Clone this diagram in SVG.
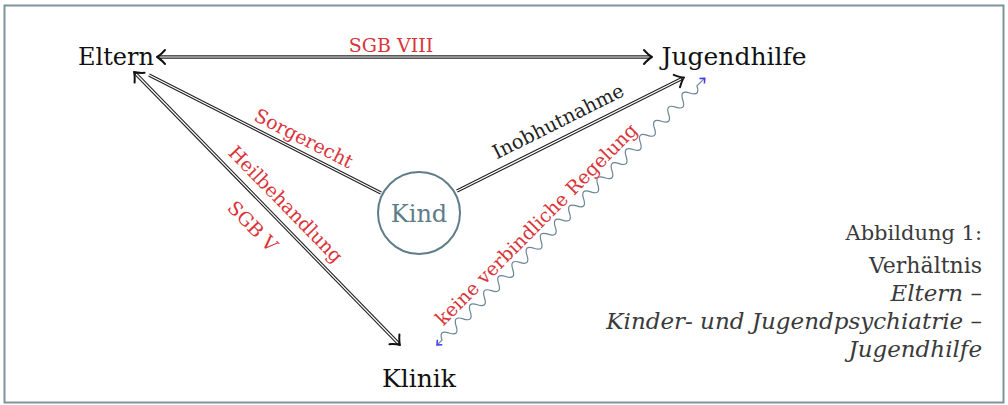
<svg xmlns="http://www.w3.org/2000/svg" width="1008" height="405" viewBox="0 0 1008 405">
<style>
.node{font-family:"DejaVu Serif","Liberation Serif",serif;font-size:24px;fill:#111;text-anchor:middle}
.lab{font-family:"DejaVu Serif","Liberation Serif",serif;font-size:19px;text-anchor:middle}
.red{fill:#d9343a}
.blk{fill:#222}
.cap{font-family:"DejaVu Serif","Liberation Serif",serif;font-size:21px;fill:#3a3a3a;text-anchor:end;font-weight:300}
.it{font-style:italic;font-size:23px}
.outer{stroke:#222;stroke-width:3.4;fill:none}
.inner{stroke:#fff;stroke-width:1.2;fill:none}
.tip{stroke:#111;stroke-width:2;fill:none;stroke-linecap:round;stroke-linejoin:round}
.btip{stroke:#3b3bff;stroke-width:1.5;fill:none}
</style>
<defs>
<path id="tip" d="M-8,-7 Q-3,-1.5 0,0 Q-3,1.5 -8,7"/>
</defs>
<rect x="4.5" y="5.5" width="999" height="397" fill="#fff" stroke="#7d9499" stroke-width="2"/>
<g id="connectors">
  <!-- Eltern <-> Jugendhilfe -->
  <line class="outer" x1="158" y1="57" x2="651" y2="57"/>
  <line class="inner" x1="158" y1="57" x2="650" y2="57"/>
  <use href="#tip" class="tip" transform="translate(157,57) rotate(180)"/>
  <use href="#tip" class="tip" transform="translate(652,57)"/>
  <!-- Eltern - Kind -->
  <line class="outer" x1="149" y1="75" x2="381" y2="193"/>
  <line class="inner" x1="149" y1="75" x2="381" y2="193"/>
  <!-- Kind -> Jugendhilfe -->
  <line class="outer" x1="457" y1="191" x2="682" y2="78.5"/>
  <line class="inner" x1="457" y1="191" x2="681" y2="79"/>
  <use href="#tip" class="tip" transform="translate(684,77.5) rotate(-26.6)"/>
  <!-- Eltern <-> Klinik -->
  <line class="outer" x1="135" y1="73" x2="399" y2="344"/>
  <line class="inner" x1="136" y1="74" x2="398" y2="343"/>
  <use href="#tip" class="tip" transform="translate(134,72) rotate(225.7)"/>
  <use href="#tip" class="tip" transform="translate(400,345) rotate(45.7)"/>
  <!-- Klinik ~ Jugendhilfe (snake) -->
  <g transform="translate(437,345) rotate(-44.9)">
    <path fill="none" stroke="#6a8594" stroke-width="1.2" d="M0,0 L7,0 q5,-10 10,0 t10,0 t10,0 t10,0 t10,0 t10,0 t10,0 t10,0 t10,0 t10,0 t10,0 t10,0 t10,0 t10,0 t10,0 t10,0 t10,0 t10,0 t10,0 t10,0 t10,0 t10,0 t10,0 t10,0 t10,0 t10,0 t10,0 t10,0 t10,0 t10,0 t10,0 t10,0 t10,0 t10,0 t10,0 t10,0 L378,0"/>
    <path class="btip" d="M4,-3.5 L0,0 L4,3.5"/>
    <path class="btip" d="M374,-3.5 L378,0 L374,3.5"/>
  </g>
  <!-- labels -->
  <text class="lab red" x="391" y="52">SGB VIII</text>
  <text class="lab red" transform="translate(304,138) rotate(26.9)" y="7">Sorgerecht</text>
  <text class="lab blk" transform="translate(558,121) rotate(-26.6)" y="7" style="font-size:19.5px">Inobhutnahme</text>
  <text class="lab red" transform="translate(286,204) rotate(45.7)" y="7">Heilbehandlung</text>
  <text class="lab red" transform="translate(253,226) rotate(45.7)" y="7">SGB V</text>
  <text class="lab red" transform="translate(536,224) rotate(-45)" y="7">keine verbindliche Regelung</text>
</g>
<g id="eltern"><text class="node" x="116" y="65">Eltern</text></g>
<g id="jugendhilfe"><text class="node" x="734" y="65" style="font-size:25px">Jugendhilfe</text></g>
<g id="klinik"><text class="node" x="419" y="387" style="font-size:25px">Klinik</text></g>
<g id="kind">
  <circle cx="419" cy="213" r="41" fill="#fff" stroke="#5f7c89" stroke-width="2"/>
  <text class="node" x="419" y="222" style="fill:#5f7c89">Kind</text>
</g>
<g id="caption">
  <text class="cap" x="982" y="240">Abbildung 1:</text>
  <text class="cap" x="982" y="273" style="font-size:22px">Verhältnis</text>
  <text class="cap it" x="982" y="301">Eltern –</text>
  <text class="cap it" x="982" y="329">Kinder- und Jugendpsychiatrie –</text>
  <text class="cap it" x="982" y="357">Jugendhilfe</text>
</g>
</svg>
